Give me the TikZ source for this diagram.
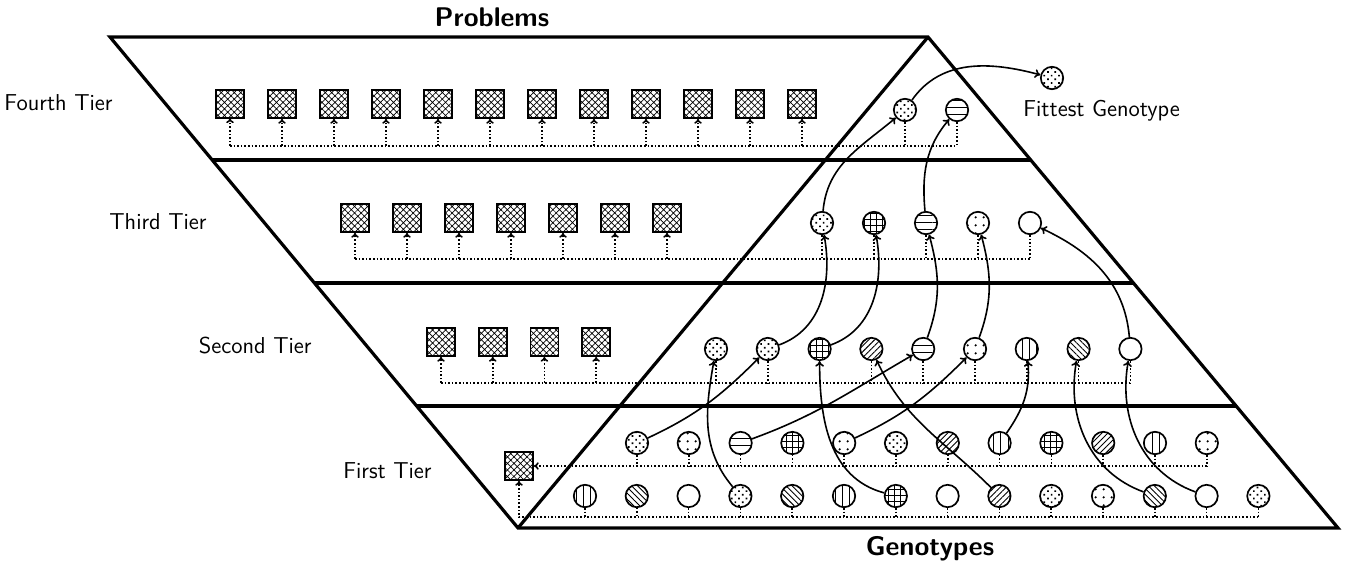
\documentclass[tikz,border=0pt]{standalone}
\usetikzlibrary{patterns.meta,arrows.meta}
\begin{document}
\begin{tikzpicture}[x=0.5pt,y=0.5pt,
  outline/.style={line width=1.6pt},
  sq/.style={draw, line width=0.9pt, minimum size=14pt, inner sep=0pt,
    pattern={Hatch[angle=45,distance=2.3pt,line width=0.35pt]}},
  gen/.style={circle, draw, line width=0.85pt, minimum size=11.2pt, inner sep=0pt},
  dense/.style={gen, pattern={Dots[angle=45,distance=2.6pt,radius=0.6pt]}},
  four/.style={gen, pattern={Dots[distance=4pt,radius=0.65pt]}},
  hl/.style={gen, pattern={Lines[angle=0,distance=3.6pt,line width=0.45pt]}},
  vl/.style={gen, pattern={Lines[angle=90,distance=3.6pt,line width=0.45pt]}},
  gridp/.style={gen, pattern={Hatch[angle=0,distance=3pt,line width=0.45pt]}},
  ne/.style={gen, pattern={Lines[angle=45,distance=2.1pt,line width=0.45pt]}},
  nw/.style={gen, pattern={Lines[angle=-45,distance=2.1pt,line width=0.45pt]}},
  emp/.style={gen},
  drop/.style={line width=0.8pt, densely dotted},
  feed/.style={drop, -{To[length=2.4pt,width=3.8pt]}},
  link/.style={line width=0.8pt, -{To[length=2.8pt,width=4.4pt]}},
  lab/.style={font=\sffamily\fontsize{11.5}{13}\selectfont, inner sep=0pt},
  big/.style={font=\sffamily\bfseries\fontsize{13.5}{15}\selectfont, anchor=base, inner sep=0pt}
]
\useasboundingbox (0,0) rectangle (1348,-561);

% frame
\draw[outline] (110,-37) -- (928,-37) -- (1338,-528) -- (518,-528) -- cycle;
\draw[outline] (518,-528) -- (928,-37);
\draw[outline] (212.2,-160) -- (1030.7,-160);
\draw[outline] (314.4,-283) -- (1133.4,-283);
\draw[outline] (416.6,-406) -- (1236.1,-406);

% labels
\node[big] (tprob) at (492,-27) {Problems};
\node[big] (tgeno) at (930,-555) {Genotypes};
\node[lab, anchor=base east] (t4) at (113,-111) {Fourth Tier};
\node[lab, anchor=base east] (t3) at (207,-229) {Third Tier};
\node[lab, anchor=base east] (t2) at (312,-353) {Second Tier};
\node[lab, anchor=base east] (t1) at (432,-478) {First Tier};
\node[lab, anchor=base west] (tfit) at (1023,-117) {Fittest Genotype};

% bus coordinates
\coordinate (bus4) at (0,-146);
\coordinate (bus3) at (0,-259);
\coordinate (bus2) at (0,-383);
\coordinate (busA) at (0,-466);
\coordinate (busB) at (0,-517);

% problem squares
\foreach \i in {1,...,12} \node[sq] (p4-\i) at ({230+52*(\i-1)},-104) {};
\foreach \i in {1,...,7} \node[sq] (p3-\i) at ({355+52*(\i-1)},-218) {};
\foreach \i in {1,...,4} \node[sq] (p2-\i) at ({441+51.7*(\i-1)},-342) {};
\node[sq] (p1) at (519,-466) {};

% first tier, upper row
\node[dense] (a1) at ({637+51.8*0},-443) {};
\node[four]  (a2) at ({637+51.8*1},-443) {};
\node[hl]    (a3) at ({637+51.8*2},-443) {};
\node[gridp] (a4) at ({637+51.8*3},-443) {};
\node[four]  (a5) at ({637+51.8*4},-443) {};
\node[dense] (a6) at ({637+51.8*5},-443) {};
\node[ne]    (a7) at ({637+51.8*6},-443) {};
\node[vl]    (a8) at ({637+51.8*7},-443) {};
\node[gridp] (a9) at ({637+51.8*8},-443) {};
\node[ne]    (a10) at ({637+51.8*9},-443) {};
\node[vl]    (a11) at ({637+51.8*10},-443) {};
\node[four]  (a12) at ({637+51.8*11},-443) {};

% first tier, lower row
\node[vl]    (b1) at ({585+51.8*0},-496) {};
\node[nw]    (b2) at ({585+51.8*1},-496) {};
\node[emp]   (b3) at ({585+51.8*2},-496) {};
\node[dense] (b4) at ({585+51.8*3},-496) {};
\node[nw]    (b5) at ({585+51.8*4},-496) {};
\node[vl]    (b6) at ({585+51.8*5},-496) {};
\node[gridp] (b7) at ({585+51.8*6},-496) {};
\node[emp]   (b8) at ({585+51.8*7},-496) {};
\node[ne]    (b9) at ({585+51.8*8},-496) {};
\node[dense] (b10) at ({585+51.8*9},-496) {};
\node[four]  (b11) at ({585+51.8*10},-496) {};
\node[nw]    (b12) at ({585+51.8*11},-496) {};
\node[emp]   (b13) at ({585+51.8*12},-496) {};
\node[dense] (b14) at ({585+51.8*13},-496) {};

% second tier
\node[dense] (c1) at ({716+51.8*0},-349) {};
\node[dense] (c2) at ({716+51.8*1},-349) {};
\node[gridp] (c3) at ({716+51.8*2},-349) {};
\node[ne]    (c4) at ({716+51.8*3},-349) {};
\node[hl]    (c5) at ({716+51.8*4},-349) {};
\node[four]  (c6) at ({716+51.8*5},-349) {};
\node[vl]    (c7) at ({716+51.8*6},-349) {};
\node[nw]    (c8) at ({716+51.8*7},-349) {};
\node[emp]   (c9) at ({716+51.8*8},-349) {};

% third tier
\node[dense] (d1) at ({822+52*0},-223) {};
\node[gridp] (d2) at ({822+52*1},-223) {};
\node[hl]    (d3) at ({822+52*2},-223) {};
\node[four]  (d4) at ({822+52*3},-223) {};
\node[emp]   (d5) at ({822+52*4},-223) {};

% fourth tier
\node[dense] (e1) at (905,-110) {};
\node[hl]    (e2) at (957,-110) {};
\node[dense] (f) at (1052,-78) {};

% buses: fourth tier
\draw[drop] (p4-1.south |- bus4) -- (e2.south |- bus4);
\foreach \i in {1,...,12} \draw[feed] (p4-\i.south |- bus4) -- (p4-\i.south);
\foreach \n in {e1,e2} \draw[drop] (\n.south) -- (\n.south |- bus4);
% third tier
\draw[drop] (p3-1.south |- bus3) -- (d5.south |- bus3);
\foreach \i in {1,...,7} \draw[feed] (p3-\i.south |- bus3) -- (p3-\i.south);
\foreach \i in {1,...,5} \draw[drop] (d\i.south) -- (d\i.south |- bus3);
% second tier
\draw[drop] (p2-1.south |- bus2) -- (c9.south |- bus2);
\foreach \i in {1,...,4} \draw[feed] (p2-\i.south |- bus2) -- (p2-\i.south);
\foreach \i in {1,...,9} \draw[drop] (c\i.south) -- (c\i.south |- bus2);
% first tier
\draw[feed] (a12.south |- busA) -- (p1.east);
\foreach \i in {1,...,12} \draw[drop] (a\i.south) -- (a\i.south |- busA);
\draw[feed] (b14.south |- busB) -- (p1.south |- busB) -- (p1.south);
\foreach \i in {1,...,14} \draw[drop] (b\i.south) -- (b\i.south |- busB);

% promotions
\draw[link] (b4) to[out=130,in=-100] (c1);
\draw[link] (a1) to[out=25,in=-135] (c2);
\draw[link] (b7) to[out=165,in=-90] (c3);
\draw[link] (b9) to[out=135,in=-65] (c4);
\draw[link] (a3) to[out=20,in=-150] (c5);
\draw[link] (a5) to[out=25,in=-135] (c6);
\draw[link] (a8) to[out=55,in=-85] (c7);
\draw[link] (b12) to[out=160,in=-100] (c8);
\draw[link] (b13) to[out=160,in=-100] (c9);
\draw[link] (c2) to[out=20,in=-80] (d1);
\draw[link] (c3) to[out=20,in=-80] (d2);
\draw[link] (c5) to[out=70,in=-75] (d3);
\draw[link] (c6) to[out=70,in=-75] (d4);
\draw[link] (c9) to[out=95,in=-25] (d5);
\draw[link] (d1) to[out=85,in=-140] (e1);
\draw[link] (d3) to[out=95,in=-130] (e2);
\draw[link] (e1) to[out=55,in=165] (f);
\end{tikzpicture}
\end{document}
